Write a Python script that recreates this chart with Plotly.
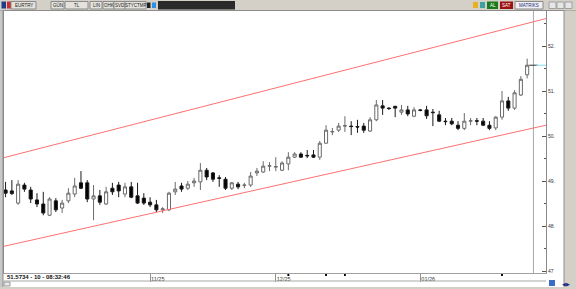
import plotly.graph_objects as go
import pandas as pd

# ---------------- data (EUR/TRY daily) ----------------
open_ = [48.80, 48.78, 48.51, 48.91, 48.80, 48.58, 48.49, 48.24, 48.56, 48.40,
         48.56, 48.71, 48.96, 48.96, 48.60, 48.67, 48.49, 48.84, 48.91, 48.71,
         48.87, 48.67, 48.62, 48.53, 48.47, 48.36, 48.36, 48.76, 48.89, 48.84,
         48.96, 48.98, 49.24, 49.18, 49.07, 49.04, 48.84, 48.93, 48.90, 48.91,
         49.18, 49.20, 49.33, 49.31, 49.24, 49.38, 49.53, 49.60, 49.57, 49.58,
         49.53, 49.84, 50.09, 50.13, 50.22, 50.22, 50.21, 50.22, 50.11, 50.36,
         50.67, 50.62, 50.66, 50.53, 50.58, 50.44, 50.58, 50.58, 50.53, 50.47,
         50.33, 50.33, 50.24, 50.17, 50.33, 50.34, 50.33, 50.24, 50.18, 50.42,
         50.78, 50.62, 50.91, 51.36]
high = [48.98, 49.02, 49.02, 48.96, 48.87, 48.73, 48.76, 48.64, 48.62, 48.58,
        48.84, 49.07, 49.22, 49.02, 48.91, 48.80, 48.87, 48.96, 48.98, 48.96,
        48.98, 48.96, 48.73, 48.64, 48.58, 48.42, 48.76, 48.98, 48.96, 49.00,
        49.07, 49.40, 49.29, 49.20, 49.13, 49.09, 48.98, 48.98, 48.96, 49.20,
        49.29, 49.44, 49.42, 49.53, 49.44, 49.64, 49.64, 49.64, 49.69, 49.69,
        49.89, 50.24, 50.18, 50.29, 50.44, 50.33, 50.36, 50.29, 50.42, 50.80,
        50.80, 50.64, 50.67, 50.69, 50.67, 50.64, 50.60, 50.67, 50.60, 50.56,
        50.40, 50.40, 50.33, 50.51, 50.40, 50.40, 50.40, 50.33, 50.44, 51.00,
        50.87, 51.02, 51.33, 51.72]
low = [48.64, 48.69, 48.47, 48.76, 48.51, 48.42, 48.24, 48.22, 48.31, 48.29,
       48.51, 48.64, 48.82, 48.53, 48.13, 48.47, 48.47, 48.69, 48.64, 48.64,
       48.62, 48.49, 48.47, 48.42, 48.31, 48.29, 48.33, 48.69, 48.76, 48.80,
       48.87, 48.80, 49.02, 48.98, 48.87, 48.80, 48.80, 48.82, 48.84, 48.87,
       49.11, 49.18, 49.22, 49.22, 49.22, 49.24, 49.51, 49.51, 49.51, 49.51,
       49.47, 49.84, 50.02, 50.09, 50.09, 50.02, 50.07, 50.07, 50.09, 50.33,
       50.47, 50.58, 50.42, 50.47, 50.44, 50.42, 50.55, 50.38, 50.22, 50.31,
       50.24, 50.24, 50.13, 50.13, 50.24, 50.24, 50.22, 50.13, 50.13, 50.36,
       50.56, 50.58, 50.89, 51.28]
close = [48.73, 48.72, 48.93, 48.82, 48.60, 48.49, 48.29, 48.60, 48.36, 48.51,
         48.73, 48.89, 48.84, 48.60, 48.67, 48.53, 48.76, 48.76, 48.78, 48.87,
         48.64, 48.51, 48.51, 48.47, 48.36, 48.38, 48.73, 48.82, 48.82, 48.93,
         49.00, 49.24, 49.09, 49.04, 49.06, 48.84, 48.96, 48.87, 48.91, 49.11,
         49.22, 49.33, 49.34, 49.32, 49.40, 49.53, 49.60, 49.53, 49.56, 49.53,
         49.84, 50.13, 50.10, 50.22, 50.23, 50.21, 50.20, 50.13, 50.36, 50.69,
         50.62, 50.61, 50.62, 50.58, 50.49, 50.58, 50.57, 50.45, 50.52, 50.33,
         50.32, 50.27, 50.17, 50.33, 50.34, 50.33, 50.24, 50.17, 50.42, 50.78,
         50.62, 50.96, 51.26, 51.5734]

days = pd.bdate_range("2025-10-01", "2026-01-27")
days = days[days != pd.Timestamp("2026-01-01")]
x_idx = list(range(len(days)))

month_keys = ["2025-11", "2025-12", "2026-01"]
month_labels = ["11/25", "12/25", "01/26"]
month_pos = [int((days.strftime("%Y-%m") == m).argmax()) for m in month_keys]

y_tickvals = [47, 48, 49, 50, 51, 52]
y_ticktext = ["47", "48.", "49.", "50.", "51.", "52."]

channel_x = [-0.25, 86.0]
channel_upper = [49.52, 52.61]
channel_lower = [47.55, 50.24]

event_days = [45, 51, 54, 79]
last_price = 51.5734
status_text = "51.5734 - 10 - 08:32:46"
symbol = "EURTRY"
toolbar_labels = ["EURTRY", "GÜN", "TL", "LIN", "OHK", "SVD", "STYCTMP"]

X_RANGE = [-0.25, 86.0]
Y_RANGE = [46.956, 52.778]

# ---------------- geometry helpers (pixel -> paper) ----------------
W, H = 576, 289
L, R, T, B = 4, 546, 11, 273


def px(x):
    return (x - L) / (R - L)


def py(y):
    return (B - y) / (B - T)


def rect(x0, y0, x1, y1, fill, line=None, layer="above"):
    return dict(type="rect", xref="paper", yref="paper",
                x0=px(x0), x1=px(x1), y0=py(y1), y1=py(y0),
                fillcolor=fill,
                line=dict(width=0) if line is None else dict(color=line, width=1),
                layer=layer)


def hline(x0, x1, y, color, layer="above"):
    return dict(type="line", xref="paper", yref="paper",
                x0=px(x0), x1=px(x1), y0=py(y), y1=py(y),
                line=dict(color=color, width=1), layer=layer)


def vline(x, y0, y1, color, layer="above"):
    return dict(type="line", xref="paper", yref="paper",
                x0=px(x), x1=px(x), y0=py(y0), y1=py(y1),
                line=dict(color=color, width=1), layer=layer)


def label(text, x, y, size=5, color="#222", anchor="center", bold=False, font="Liberation Sans"):
    return dict(text=("<b>%s</b>" % text) if bold else text, xref="paper", yref="paper",
                x=px(x), y=py(y), xanchor=anchor, yanchor="middle", showarrow=False,
                font=dict(size=size, color=color, family=font))


fig = go.Figure()

fig.add_trace(go.Candlestick(
    x=x_idx, open=open_, high=high, low=low, close=close,
    increasing=dict(line=dict(color="#6a6a6a", width=1), fillcolor="#ffffff"),
    decreasing=dict(line=dict(color="#1a1a1a", width=1), fillcolor="#000000"),
    whiskerwidth=0, showlegend=False, hoverinfo="skip", name=symbol))

fig.add_trace(go.Scatter(x=channel_x, y=channel_upper, mode="lines",
                         line=dict(color="#ff7070", width=1), showlegend=False, hoverinfo="skip"))
fig.add_trace(go.Scatter(x=channel_x, y=channel_lower, mode="lines",
                         line=dict(color="#ff7070", width=1), showlegend=False, hoverinfo="skip"))

n = len(x_idx)
fig.add_trace(go.Scatter(x=[n], y=[last_price], mode="markers",
                         marker=dict(symbol="line-ew", size=6, line=dict(color="#333", width=1)),
                         showlegend=False, hoverinfo="skip"))

shapes = []
# cursor line and last price line
shapes.append(dict(type="line", xref="x", yref="paper", x0=n, x1=n, y0=0, y1=1,
                   line=dict(color="#a8a8a8", width=1), layer="below"))
shapes.append(dict(type="line", xref="x", yref="y", x0=n + 0.4, x1=X_RANGE[1],
                   y0=last_price, y1=last_price, line=dict(color="#7fe0f0", width=1)))

# event markers on the date bar
for e in event_days:
    shapes.append(dict(type="rect", xref="x", yref="paper", x0=e - 0.15, x1=e + 0.15,
                       y0=py(276), y1=py(274), fillcolor="#000", line=dict(width=0)))

# window chrome
shapes.append(rect(0, 0, W, 10.5, "#d4d0c8"))
shapes.append(hline(0, W, 10.5, "#8c8c8c"))
shapes.append(rect(0, 10.5, 3, 287, "#c8c8c8"))
shapes.append(vline(3, 10.5, 287, "#8c8c8c"))
shapes.append(rect(564, 10.5, W, H, "#d4d0c8"))
shapes.append(vline(564, 10.5, 287, "#8c8c8c"))
shapes.append(rect(0, 287, W, H, "#d4d0c8"))
shapes.append(hline(4, 546, 281, "#a8a8a8"))
shapes.append(rect(4, 282, 10, 286, "#e8e8e8", "#9a9a9a"))
shapes.append(rect(549, 280, 555, 286, "#3a6cc8"))

# toolbar
shapes.append(rect(1.5, 1.5, 6, 8.5, "#1c3c8c"))
shapes.append(rect(7, 1.5, 11, 8.5, "#c83030"))
tb_boxes = [(11, 36), (51, 64), (65, 88), (90, 102), (103, 114), (114, 125), (125, 146)]
for (a, b) in tb_boxes:
    shapes.append(rect(a, 1.5, b, 9, "#e4e2dc", "#8a8a8a"))
shapes.append(rect(147, 2.5, 150.5, 8, "#202020"))
shapes.append(rect(152, 2.5, 156, 8, "#2f8fe0"))
shapes.append(rect(158, 1, 235, 9.5, "#2a2a2a"))
shapes.append(rect(473, 2, 478, 8, "#e8b020"))
shapes.append(rect(480, 2, 485, 8, "#40a0a0"))
shapes.append(rect(487, 1.5, 498, 9, "#1c7a1c"))
shapes.append(rect(500, 1.5, 513, 9, "#9b1111"))
shapes.append(rect(515, 1.5, 543, 9, "#f0f0f0", "#8a8a8a"))
for a in (549, 557, 565):
    shapes.append(rect(a, 2, a + 7, 8.5, "#e6e6e6", "#a0a0a0"))

annotations = []
for text, (a, b) in zip(toolbar_labels, tb_boxes):
    annotations.append(label(text, (a + b) / 2, 5.5, size=4.5, color="#222"))
annotations.append(label("AL", 492.5, 5.5, size=4.5, color="#fff"))
annotations.append(label("SAT", 506.5, 5.5, size=4.5, color="#fff"))
annotations.append(label("MATRIKS", 529, 5.5, size=4.5, color="#1a2a80"))
annotations.append(label(status_text, 4.5, 277, size=6, color="#111", anchor="left", bold=True))
annotations.append(label("◀▶", 566, 283.5, size=5, color="#1a2a80"))

fig.update_layout(
    width=W, height=H,
    margin=dict(l=L, r=W - R, t=T, b=H - B, pad=0),
    paper_bgcolor="#ffffff", plot_bgcolor="#ffffff",
    showlegend=False,
    shapes=shapes, annotations=annotations,
    xaxis=dict(range=X_RANGE, rangeslider=dict(visible=False), showgrid=False, zeroline=False,
               showline=True, linecolor="#a0a0a0", linewidth=1, mirror=True,
               tickmode="array", tickvals=month_pos, ticktext=month_labels,
               ticks="outside", ticklen=8, tickcolor="#909090", tickwidth=1,
               ticklabelposition="outside right",
               tickfont=dict(size=5.5, color="#333", family="Liberation Sans")),
    yaxis=dict(range=Y_RANGE, side="right", showgrid=False, zeroline=False,
               showline=True, linecolor="#8a8a8a", linewidth=1, mirror=True,
               tickmode="array", tickvals=y_tickvals, ticktext=y_ticktext,
               ticks="inside", ticklen=4, tickcolor="#555", tickwidth=1,
               minor=dict(dtick=0.5, ticks="inside", ticklen=2, tickcolor="#555"),
               tickfont=dict(size=5, color="#333", family="Liberation Sans")),
)

fig.write_html("out.html")
